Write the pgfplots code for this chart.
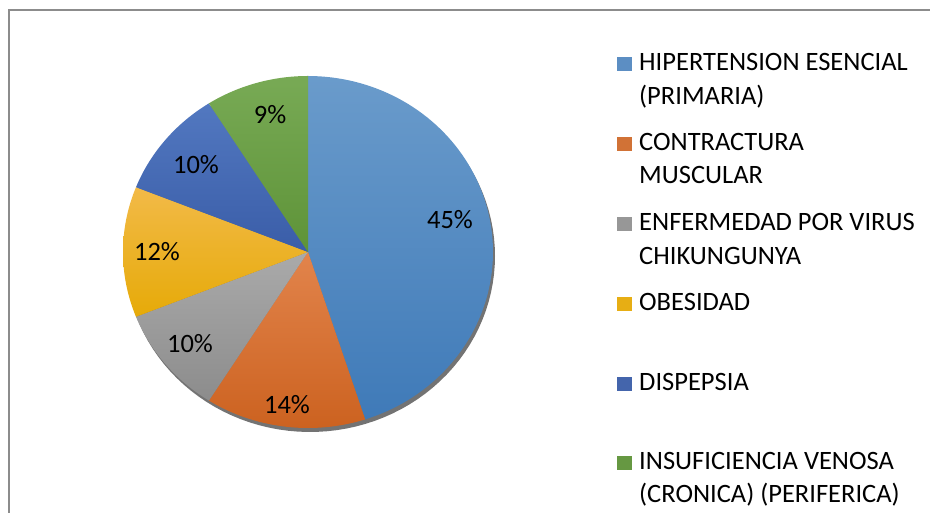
\documentclass[border=0pt]{standalone}
\usepackage{pgfplots}
\pgfplotsset{compat=1.18}
\usepackage{fontspec}
\setmainfont{Carlito}
\definecolor{bluT}{HTML}{6A9BCB}\definecolor{bluB}{HTML}{3F7AB8}
\definecolor{oraT}{HTML}{E2844C}\definecolor{oraB}{HTML}{CC6220}
\definecolor{graT}{HTML}{AAAAAA}\definecolor{graB}{HTML}{8C8C8C}
\definecolor{golT}{HTML}{F2BA48}\definecolor{golB}{HTML}{E6AA08}
\definecolor{dblT}{HTML}{5278C0}\definecolor{dblB}{HTML}{3A5DA8}
\definecolor{grnT}{HTML}{78AA55}\definecolor{grnB}{HTML}{5E9338}
\newcommand{\pieslice}[4]{%
  \addplot[draw=none, top color=#3, bottom color=#4,
    domain={90-3.6*(#1+#2)}:{90-3.6*#1}, samples=90, variable=\t]
    ({308+185*cos(\t)}, {261+176*sin(\t)}) -- (axis cs:308,261) -- cycle;}
\newcommand{\legsq}[3]{%
  \fill[#3] (axis cs:617,#1) rectangle (axis cs:632,#1+14);
  \node[anchor=base west, inner sep=0pt] at (axis cs:639,#1) {#2};}
\begin{document}
\begin{tikzpicture}[x=1pt,y=1pt]
\path[use as bounding box, fill=white] (0,0) rectangle (930,513);
\begin{axis}[at={(0,0)}, anchor=south west, scale only axis,
  width=930pt, height=513pt, xmin=0, xmax=930, ymin=0, ymax=513,
  hide axis, clip=false]
\draw[color=black!45, line width=1.3pt] (axis cs:9,-20) -- (axis cs:9,503) -- (axis cs:950,503);
% shadow
\addplot[draw=none, fill=black!55, domain=0:360, samples=120, variable=\t]
  ({310+185*cos(\t)}, {257+176*sin(\t)}) -- cycle;
% slices: cumulative start, percentage
\pieslice{0}{45}{bluT}{bluB}
\pieslice{45}{14}{oraT}{oraB}
\pieslice{59}{10}{graT}{graB}
\pieslice{69}{12}{golT}{golB}
\pieslice{81}{10}{dblT}{dblB}
\pieslice{91}{9}{grnT}{grnB}
\begin{scope}[every node/.style={font=\fontsize{26.5}{32}\selectfont, inner sep=0pt}]
\node at (axis cs:450,293) {45\%};
\node at (axis cs:287,108) {14\%};
\node at (axis cs:190,169) {10\%};
\node at (axis cs:157,261) {12\%};
\node at (axis cs:196,348) {10\%};
\node at (axis cs:270,398) {9\%};
\end{scope}
\begin{scope}[font=\fontsize{26.5}{32}\selectfont]
\legsq{442}{HIPERTENSION ESENCIAL}{bluB!85!white}
\node[anchor=base west, inner sep=0pt] at (axis cs:639,408) {(PRIMARIA)};
\legsq{362}{CONTRACTURA}{oraB!90!white}
\node[anchor=base west, inner sep=0pt] at (axis cs:639,329) {MUSCULAR};
\legsq{282}{ENFERMEDAD POR VIRUS}{graB!90!white}
\node[anchor=base west, inner sep=0pt] at (axis cs:639,248) {CHIKUNGUNYA};
\legsq{202}{OBESIDAD}{golB!95!white}
\legsq{122}{DISPEPSIA}{dblB!95!white}
\legsq{43}{INSUFICIENCIA VENOSA}{grnB!95!white}
\node[anchor=base west, inner sep=0pt] at (axis cs:639,10) {(CRONICA) (PERIFERICA)};
\end{scope}
\end{axis}
\end{tikzpicture}
\end{document}
